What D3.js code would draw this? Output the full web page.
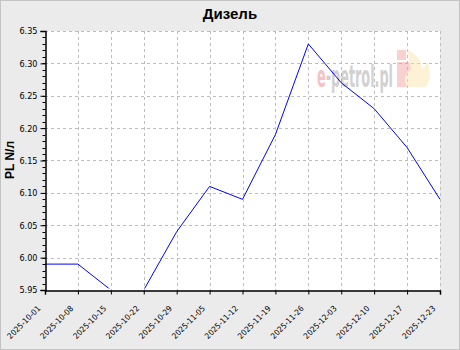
<!DOCTYPE html>
<html>
<head>
<meta charset="utf-8">
<script src="https://cdn.jsdelivr.net/npm/d3@7"></script>
<style>
  body { margin: 0; background: #fff; }
  svg { display: block; font-family: "Liberation Sans", Arial, sans-serif; }
</style>
</head>
<body>
<div class="chart"></div>
<script>
// diesel price chart, weekly

var svgWidth = 460;
var svgHeight = 350;

var margin = { top: 31, right: 20, bottom: 60, left: 45 };
var width = 440 - margin.left;
var height = 290 - margin.top;

// data
var dates = ["2025-10-01", "2025-10-08", "2025-10-15", "2025-10-22", "2025-10-29",
  "2025-11-05", "2025-11-12", "2025-11-19", "2025-11-26", "2025-12-03",
  "2025-12-10", "2025-12-17", "2025-12-23"];
var prices = [5.99, 5.99, 5.95, 5.95, 6.04, 6.11, 6.09, 6.19, 6.33, 6.27, 6.23, 6.17, 6.09];
var yTicks = [5.95, 6.00, 6.05, 6.10, 6.15, 6.20, 6.25, 6.30, 6.35];

var data = dates.map(function(d, i) { return { date: d, price: prices[i] }; });

var svg = d3.select(".chart")
  .append("svg")
  .attr("width", svgWidth)
  .attr("height", svgHeight);

// grey background with border
svg.append("rect")
  .attr("x", 0.5).attr("y", 0.5)
  .attr("width", svgWidth - 1).attr("height", svgHeight - 1)
  .attr("fill", "#ebebeb")
  .attr("stroke", "#c4c4c4");

var chartGroup = svg.append("g")
  .attr("transform", `translate(${margin.left}, ${margin.top})`);

chartGroup.append("rect")
  .attr("width", width)
  .attr("height", height)
  .attr("fill", "#ffffff");

var xScale = d3.scalePoint()
  .domain(dates)
  .range([0, width]);

var yScale = d3.scaleLinear()
  .domain([5.95, 6.35])
  .range([height, 0]);

// dashed grid
chartGroup.append("g")
  .selectAll("line.v")
  .data(dates.slice(1))
  .enter()
  .append("line")
  .attr("x1", d => Math.round(xScale(d)) + 0.5)
  .attr("x2", d => Math.round(xScale(d)) + 0.5)
  .attr("y1", 0)
  .attr("y2", height)
  .attr("stroke", "#bdbdbd")
  .attr("stroke-dasharray", "3,3");

chartGroup.append("g")
  .selectAll("line.h")
  .data(yTicks.slice(1))
  .enter()
  .append("line")
  .attr("x1", 0)
  .attr("x2", width)
  .attr("y1", d => Math.round(yScale(d)) + 0.5)
  .attr("y2", d => Math.round(yScale(d)) + 0.5)
  .attr("stroke", "#bdbdbd")
  .attr("stroke-dasharray", "3,3");

// watermark (e-petrol.pl logo, faded)
var wm = chartGroup.append("g")
  .attr("opacity", 0.45);
wm.append("text")
  .attr("transform", "translate(272, 56) scale(1, 1.15)")
  .attr("font-family", "'DejaVu Sans Condensed', sans-serif")
  .attr("font-size", 26)
  .attr("font-weight", "bold")
  .attr("textLength", 76)
  .attr("lengthAdjust", "spacingAndGlyphs")
  .attr("fill", "#9a9a9a")
  .html('<tspan fill="#f07878">e</tspan>-petrol.pl');
wm.append("rect")
  .attr("x", 352).attr("y", 19)
  .attr("width", 9).attr("height", 10)
  .attr("fill", "#f59a9a");
wm.append("rect")
  .attr("x", 352).attr("y", 31)
  .attr("width", 22).attr("height", 25)
  .attr("fill", "#f59a9a");
wm.append("path")
  .attr("d", "M362,18 C372,24 378,30 376,38 C380,36 382,33 382,30 C386,38 386,48 381,56 L362,56 C358,48 360,42 366,38 C364,32 364,26 362,18 Z")
  .attr("fill", "#fde3a6");

// clip for the line (bottom edge hidden under the axis)
svg.append("clipPath")
  .attr("id", "plotClip")
  .append("rect")
  .attr("width", width)
  .attr("height", height - 1.5);

var line = d3.line()
  .x(d => xScale(d.date))
  .y(d => yScale(d.price));

chartGroup.append("path")
  .datum(data)
  .attr("clip-path", "url(#plotClip)")
  .attr("fill", "none")
  .attr("stroke", "#0000ff")
  .attr("stroke-width", 1)
  .attr("d", line);

// y axis with minor ticks
var yAxis = d3.axisLeft(yScale)
  .tickValues(yTicks)
  .tickFormat(d3.format(".2f"))
  .tickSize(5)
  .tickPadding(3);

var yAxisG = chartGroup.append("g")
  .attr("transform", "translate(0.5,0)")
  .call(yAxis);

var minor = d3.range(0, 41).map(i => 5.95 + i * 0.01);
yAxisG.selectAll("line.minor")
  .data(minor)
  .enter()
  .append("line")
  .attr("class", "minor")
  .attr("x1", -3)
  .attr("x2", 0)
  .attr("y1", d => Math.round(yScale(d)) + 0.5)
  .attr("y2", d => Math.round(yScale(d)) + 0.5)
  .attr("stroke", "#000");

yAxisG.selectAll("text")
  .attr("font-size", 9)
  .attr("font-family", "'DejaVu Sans Condensed', sans-serif")
  .attr("fill", "#000");

// x axis
var xAxis = d3.axisBottom(xScale)
  .tickSize(4)
  .tickFormat("");

var xAxisG = chartGroup.append("g")
  .attr("transform", `translate(0, ${height + 0.5})`)
  .call(xAxis);

xAxisG.select(".domain").attr("stroke-width", 1.5);
yAxisG.select(".domain").attr("stroke-width", 1.5);

chartGroup.append("g")
  .selectAll("text")
  .data(dates)
  .enter()
  .append("text")
  .attr("transform", d => `translate(${xScale(d) - 6}, ${height + 17}) rotate(-45)`)
  .attr("text-anchor", "end")
  .attr("dy", "0.35em")
  .attr("font-size", 8)
  .attr("font-family", "'DejaVu Sans Condensed', sans-serif")
  .attr("textLength", 43)
  .attr("lengthAdjust", "spacingAndGlyphs")
  .text(d => d);

// title
svg.append("text")
  .attr("x", 230)
  .attr("y", 19)
  .attr("text-anchor", "middle")
  .attr("font-size", 15)
  .attr("font-weight", "bold")
  .text("Дизель");

// y axis label
svg.append("text")
  .attr("transform", "translate(14, 160) rotate(-90)")
  .attr("text-anchor", "middle")
  .attr("font-size", 12)
  .attr("font-weight", "bold")
  .text("PL N/л");
</script>
</body>
</html>
